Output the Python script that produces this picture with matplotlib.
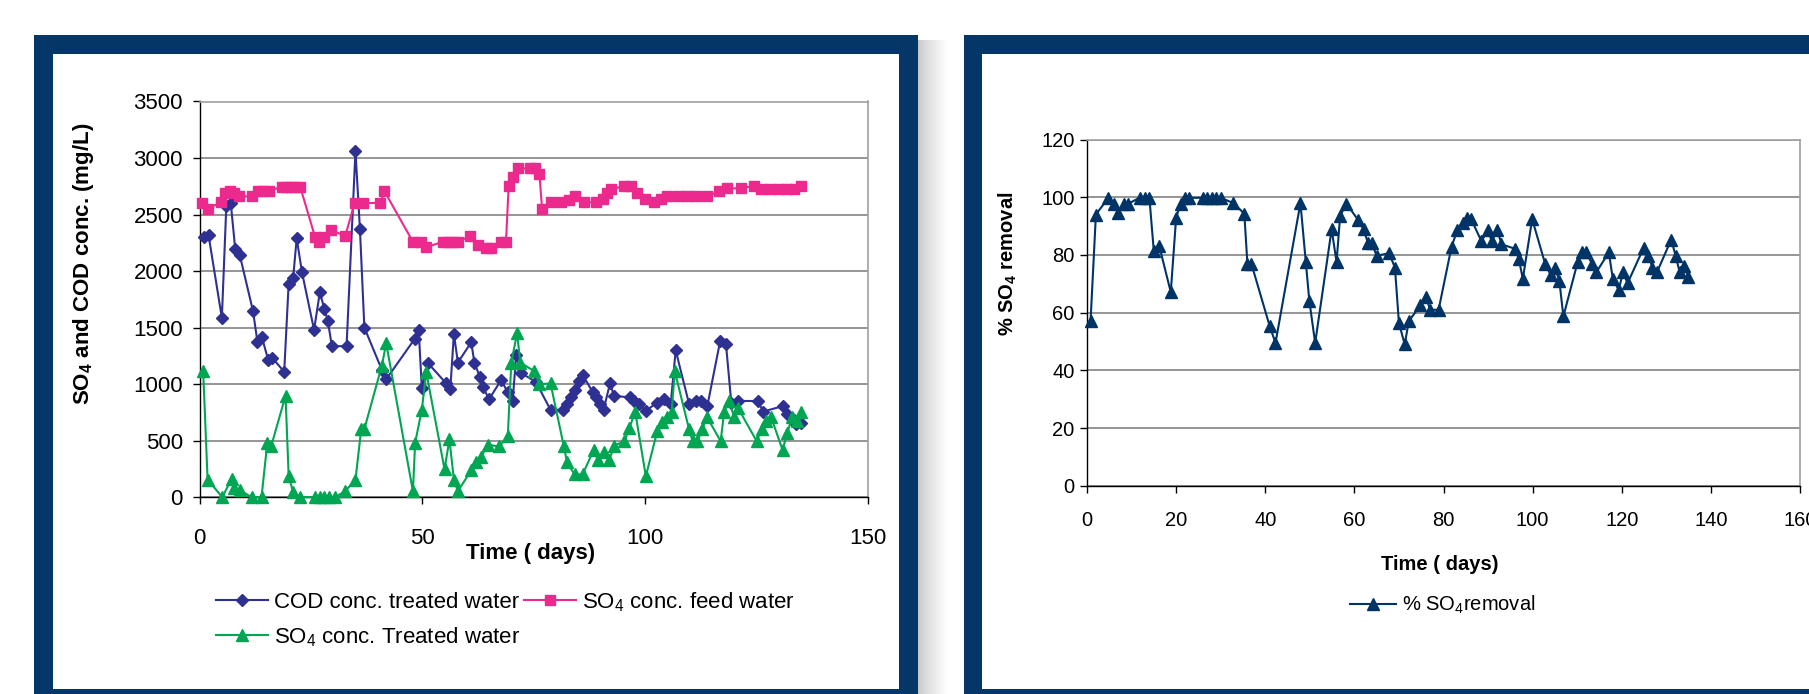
import matplotlib
matplotlib.use('Agg')
import matplotlib.pyplot as plt
from matplotlib.patches import Rectangle

plt.rcParams['font.family'] = ['Liberation Sans', 'DejaVu Sans']
plt.rcParams['mathtext.fontset'] = 'custom'
plt.rcParams['mathtext.rm'] = 'Liberation Sans'
plt.rcParams['mathtext.bf'] = 'Liberation Sans:bold'
plt.rcParams['mathtext.it'] = 'Liberation Sans:italic'

# DATA - left chart (mg/L vs days)
cod_days = [1, 2, 5, 6, 7, 8, 9, 12, 13, 14, 15.4, 16.3, 19, 20, 21, 21.8, 23, 25.7, 27, 28, 28.8, 29.7,
            33, 35, 36, 37, 40.9, 41.9, 48.3, 49.2, 49.9, 51.3, 55.4, 56.3, 57.1, 58, 61, 61.7, 62.9, 63.6,
            65, 67.7, 69.2, 70.3, 71.1, 72.2, 75.5, 78.8, 81.5, 82.5, 83.3, 84.2, 85.3, 86, 88.3, 89.1,
            89.9, 90.7, 92.2, 93, 96.7, 97.5, 98.7, 100.2, 102.7, 104.2, 105.8, 106.9, 109.9, 111.4, 112.7,
            114, 116.9, 118.2, 119.4, 120.9, 125.3, 126.6, 130.9, 132, 133, 134, 135]
cod_vals = [2300, 2320, 1586, 2575, 2600, 2195, 2145, 1645, 1371, 1414, 1215, 1234, 1109, 1890, 1937, 2289,
            1988, 1480, 1812, 1668, 1559, 1336, 1336, 3062, 2375, 1500, 1129, 1043, 1400, 1476, 968, 1185,
            1006, 959, 1445, 1191, 1371, 1191, 1067, 975, 866, 1036, 928, 851, 1259, 1098, 1020, 773, 773,
            826, 882, 944, 1030, 1083, 928, 882, 826, 773, 1012, 897, 882, 850, 820, 764, 835, 866, 826,
            1300, 826, 851, 851, 804, 1383, 1352, 835, 851, 851, 758, 805, 740, 700, 650, 660]

feed_days = [0.6, 1.8, 4.8, 5.7, 6.8, 7.8, 8.8, 11.7, 13.2, 14.3, 15.5, 18.5, 19.5, 20.5, 21.5, 22.6,
             25.9, 26.8, 28, 29.6, 32.7, 34.8, 36.7, 40.6, 41.5, 47.9, 49.8, 50.9, 54.6, 55.8, 57, 58,
             60.8, 62.5, 64.3, 65.5, 67.7, 68.8, 69.4, 70.3, 71.5, 74.1, 75.3, 76.3, 76.9, 78.8, 81.2,
             83, 84.2, 86.4, 89, 90.5, 91.5, 92.4, 95.4, 96.9, 98.3, 100, 102, 103.5, 105, 107.5, 109.5,
             111.5, 114, 116.7, 118.5, 121.5, 124.5, 126, 128, 130, 132, 133.5, 135]
feed_vals = [2600, 2553, 2608, 2692, 2707, 2692, 2661, 2661, 2707, 2710, 2710, 2744, 2744, 2744, 2744, 2744,
             2305, 2259, 2305, 2361, 2311, 2599, 2599, 2605, 2707, 2259, 2259, 2212, 2259, 2259, 2259, 2259,
             2311, 2228, 2206, 2206, 2259, 2259, 2754, 2831, 2908, 2908, 2908, 2862, 2553, 2608, 2608,
             2630, 2661, 2608, 2608, 2640, 2690, 2723, 2754, 2754, 2692, 2640, 2614, 2640, 2661, 2661, 2661,
             2661, 2661, 2707, 2732, 2732, 2754, 2723, 2723, 2723, 2723, 2723, 2754]

treat_days = [0.8, 1.8, 5.1, 7.2, 7.8, 9, 11.7, 13.9, 15.2, 16.1, 19.3, 20, 21, 22.5, 25.9, 27, 28, 29,
              30.4, 32.7, 35, 36.3, 37, 40.9, 41.9, 47.9, 48.4, 49.9, 50.9, 55, 56.1, 57.1, 58, 61, 62.1,
              63.2, 64.7, 67.3, 69.2, 70, 71.3, 72, 75.2, 76.3, 78.8, 81.8, 82.5, 84.2, 86, 88.5, 89.4,
              90.9, 92, 93.1, 95.4, 96.5, 97.8, 100.2, 102.8, 103.9, 105, 106, 106.7, 109.9, 110.7, 111.8,
              112.9, 113.9, 117, 117.8, 118.9, 120, 120.9, 125.1, 126.2, 127.1, 128.3, 130.9, 132, 133.1,
              134.2, 135]
treat_vals = [1114, 155, 0, 164, 77, 62, 0, 0, 480, 455, 897, 186, 46, 0, 0, 0, 0, 0,
              0, 53, 155, 603, 603, 1160, 1361, 53, 480, 774, 1105, 248, 511, 155, 53, 238, 309,
              356, 464, 449, 542, 1191, 1454, 1191, 1114, 1000, 1006, 449, 309, 201, 201, 418, 331,
              402, 331, 455, 496, 609, 758, 186, 588, 665, 712, 758, 1114, 603, 495, 495,
              603, 712, 495, 758, 851, 712, 789, 495, 603, 671, 712, 418, 572, 712,
              671, 758]

# DATA - right chart (% SO4 removal vs days)
rem_days = [0.8, 2, 4.8, 6, 7, 8.3, 9.3, 11.8, 13, 14, 15, 16.2, 18.8, 20, 21, 22, 23, 26, 27, 28, 29, 30,
            32.8, 35.3, 36, 36.9, 41, 42.3, 47.9, 49.1, 49.9, 51.2, 54.9, 56, 56.8, 58.2, 60.9, 62.1, 63,
            63.9, 65, 67.8, 69.1, 70, 71.3, 72.2, 74.8, 76.1, 77, 78.9, 81.8, 83.1, 84.3, 85.3, 86.2, 88.5,
            90, 90.8, 92.1, 93, 96.1, 96.9, 97.8, 99.9, 102.8, 104.1, 105, 106, 106.9, 110.1, 111.1, 112,
            113.3, 114.3, 117.1, 118, 119.3, 120.3, 121.3, 124.9, 126, 126.9, 127.9, 131.1, 132.1, 133,
            134, 134.9]
rem_vals = [57.2, 94, 99.8, 97.8, 94.4, 97.8, 97.8, 99.8, 99.8, 99.8, 81.2, 83.2, 67.1, 92.9, 97.8, 99.8,
            99.8, 99.8, 99.8, 99.8, 99.8, 99.8, 98, 94.3, 76.9, 76.9, 55.3, 49.5, 98, 77.5, 64, 49.5, 88.9,
            77.5, 93.5, 97.8, 92, 88.9, 84.3, 84.3, 79.7, 80.6, 75.6, 56.4, 49, 57, 62.5, 65.3, 61, 61,
            82.8, 88.6, 90.9, 92.9, 92.4, 84.8, 88.6, 84.8, 88.6, 83.7, 82.1, 78.6, 71.7, 92.4, 77, 72.9,
            75.6, 71, 58.7, 77.5, 80.9, 80.9, 77, 74, 80.9, 71.7, 67.9, 74, 70.2, 82.4, 79.7, 75.6, 74,
            85.3, 79.7, 74, 76.3, 72.5]

# COLORS
navy = '#053668'
cod_col = '#2e3192'
feed_col = '#ec2a8e'
treat_col = '#00a651'
rem_col = '#003366'

W, H = 1809, 694
fig = plt.figure(figsize=(W / 100, H / 100), dpi=100)
fig.patch.set_facecolor('white')


def fx(x):
    return x / W


def fy(y):
    return 1 - y / H


def box(x0, y0, x1, y1, color):
    fig.patches.append(Rectangle((fx(x0), fy(y1)), fx(x1) - fx(x0), fy(y0) - fy(y1),
                                 transform=fig.transFigure, facecolor=color,
                                 edgecolor='none', zorder=-10))


# panel frames + shadow
for i in range(30):
    g = 0.78 + 0.22 * (i / 29) ** 0.8
    box(918 + i, 40, 919 + i, 700, (g, g, g))
box(34, 35, 918, 700, navy)
box(53, 54, 899, 689, 'white')
box(964, 35, 1820, 700, navy)
box(982, 54, 1820, 689, 'white')


def style(ax, fs, xpad):
    ax.grid(axis='y', color='#8c8c8c', lw=1.3)
    ax.set_axisbelow(True)
    for s in ['top', 'right']:
        ax.spines[s].set_color('#a0a0a0')
        ax.spines[s].set_linewidth(1.2)
    for s in ['left', 'bottom']:
        ax.spines[s].set_color('black')
        ax.spines[s].set_linewidth(1.0)
    ax.tick_params(direction='out', length=5, width=1, labelsize=fs)
    ax.tick_params(axis='x', pad=xpad)


# LEFT CHART
ax1 = fig.add_axes([fx(199.6), fy(497.2), fx(867.6) - fx(199.6), fy(101.5) - fy(497.2)])
h_cod, = ax1.plot(cod_days, cod_vals, color=cod_col, lw=1.5, marker='D', ms=6.5,
                  mec=cod_col, clip_on=False, zorder=3)
h_feed, = ax1.plot(feed_days, feed_vals, color=feed_col, lw=1.5, marker='s', ms=7.5,
                   mec=feed_col, clip_on=False, zorder=3)
h_trt, = ax1.plot(treat_days, treat_vals, color=treat_col, lw=1.5, marker='^', ms=8.5,
                  mec=treat_col, clip_on=False, zorder=4)
ax1.set_xlim(0, 150)
ax1.set_ylim(0, 3500)
ax1.set_xticks([0, 50, 100, 150])
ax1.set_yticks(range(0, 3501, 500))
style(ax1, 16, 17)
ax1.tick_params(axis='y', pad=7)

fig.text(fx(83.6), fy(264), r'SO$_\mathbf{4}$ and COD conc. (mg/L)', rotation=90,
         ha='center', va='center', fontsize=16, fontweight='bold')
fig.text(fx(531), fy(553), 'Time ( days)', ha='center', va='center', fontsize=16, fontweight='bold')

ax1.legend([h_cod, h_trt, h_feed],
           ['COD conc. treated water', r'SO$_\mathrm{4}$ conc. Treated water',
            r'SO$_\mathrm{4}$ conc. feed water'],
           ncol=2, loc='upper left', bbox_to_anchor=(fx(216), fy(590)),
           bbox_transform=fig.transFigure, frameon=False, fontsize=16,
           borderpad=0, borderaxespad=0, handlelength=2.35, handletextpad=0.27,
           columnspacing=0.15, labelspacing=0.55)

# RIGHT CHART
ax2 = fig.add_axes([fx(1087), fy(485.8), fx(1800) - fx(1087), fy(139.5) - fy(485.8)])
h_rem, = ax2.plot(rem_days, rem_vals, color=rem_col, lw=1.5, marker='^', ms=8.5,
                  mec=rem_col, clip_on=False, zorder=3)
ax2.set_xlim(0, 160)
ax2.set_ylim(0, 120)
ax2.set_xticks(range(0, 161, 20))
ax2.set_yticks(range(0, 121, 20))
style(ax2, 14.5, 13)
ax2.tick_params(axis='y', pad=4)

fig.text(fx(1008), fy(264), r'% SO$_\mathbf{4}$ removal', rotation=90,
         ha='center', va='center', fontsize=14.5, fontweight='bold')
fig.text(fx(1440), fy(564), 'Time ( days)', ha='center', va='center', fontsize=14.5, fontweight='bold')

ax2.legend([h_rem], [r'% SO$_\mathrm{4}$removal'], loc='upper left',
           bbox_to_anchor=(fx(1350), fy(594)), bbox_transform=fig.transFigure,
           frameon=False, fontsize=14.5, borderpad=0, borderaxespad=0,
           handlelength=2.3, handletextpad=0.3)

fig.savefig('out.png', dpi=100)
